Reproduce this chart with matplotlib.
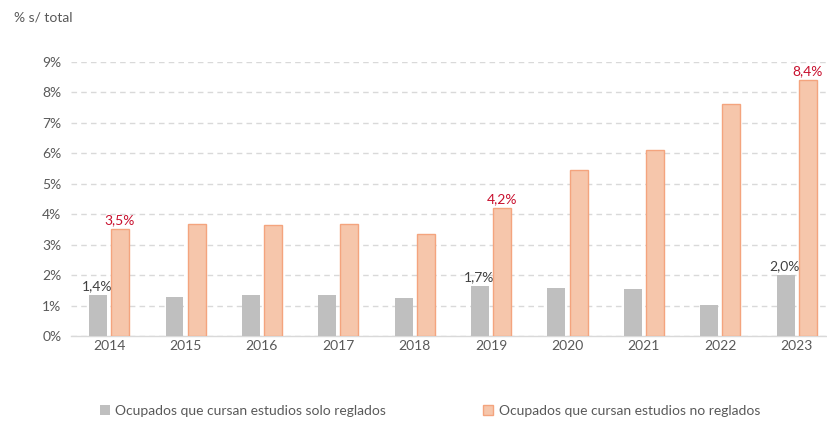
import matplotlib.pyplot as plt
import numpy as np

plt.rcParams['font.family'] = ['Lato', 'DejaVu Sans']

years = ["2014", "2015", "2016", "2017", "2018", "2019", "2020", "2021", "2022", "2023"]
solo_reglados = [1.35, 1.28, 1.35, 1.35, 1.25, 1.65, 1.58, 1.54, 1.02, 2.0]
no_reglados = [3.5, 3.67, 3.64, 3.67, 3.35, 4.2, 5.45, 6.12, 7.61, 8.4]

# labels shown on the chart (index -> text)
gray_labels = {0: "1,4%", 5: "1,7%", 9: "2,0%"}
red_labels = {0: "3,5%", 5: "4,2%", 9: "8,4%"}

legend_names = ["Ocupados que cursan estudios solo reglados",
                "Ocupados que cursan estudios no reglados"]

gray = "#BFBFBF"
orange_fill = "#F6C6AB"
orange_edge = "#F4A47E"
red = "#C8102E"
text_col = "#595959"

fig = plt.figure(figsize=(8.28, 4.26), dpi=100)
ax = fig.add_axes([71 / 828, 1 - 336 / 426, 757 / 828, 274 / 426])

x = np.arange(len(years))
w = 0.235
b1 = ax.bar(x - 0.145, solo_reglados, w, color=gray, zorder=3)
b2 = ax.bar(x + 0.145, no_reglados, w, color=orange_fill, edgecolor=orange_edge,
            linewidth=1.0, zorder=3)

for i, t in gray_labels.items():
    ax.text(x[i] - 0.16, solo_reglados[i] + 0.1, t, ha="center", va="bottom",
            fontsize=10, color="#404040")
for i, t in red_labels.items():
    ax.text(x[i] + 0.14, no_reglados[i] + 0.1, t, ha="center", va="bottom",
            fontsize=10, color=red)

ax.set_xlim(-0.5, 9.41)
ax.set_ylim(0, 9)
ax.set_yticks(range(10))
ax.set_yticklabels([f"{v}%" for v in range(10)])
ax.set_xticks(x)
ax.set_xticklabels(years)
ax.tick_params(axis="both", length=0, labelsize=10, colors=text_col)
ax.tick_params(axis="y", pad=7)
ax.tick_params(axis="x", pad=3)

ax.yaxis.grid(True, linestyle=(0, (4, 3)), color="#D9D9D9", linewidth=1.0, zorder=0)
for s in ["top", "right", "left"]:
    ax.spines[s].set_visible(False)
ax.spines["bottom"].set_color("#D9D9D9")
ax.spines["bottom"].set_linewidth(1.0)

fig.text(14 / 828, 1 - 17 / 426, "% s/ total", fontsize=10, color=text_col, va="center")

leg = fig.legend([b1, b2], legend_names, loc="center left",
                 bbox_to_anchor=(100 / 828, 1 - 411 / 426), ncol=2, frameon=False,
                 fontsize=10, handlelength=0.7, handleheight=0.7, handletextpad=0.4,
                 columnspacing=7.0, borderpad=0, borderaxespad=0, labelcolor=text_col)

fig.savefig("out.png", dpi=100)
